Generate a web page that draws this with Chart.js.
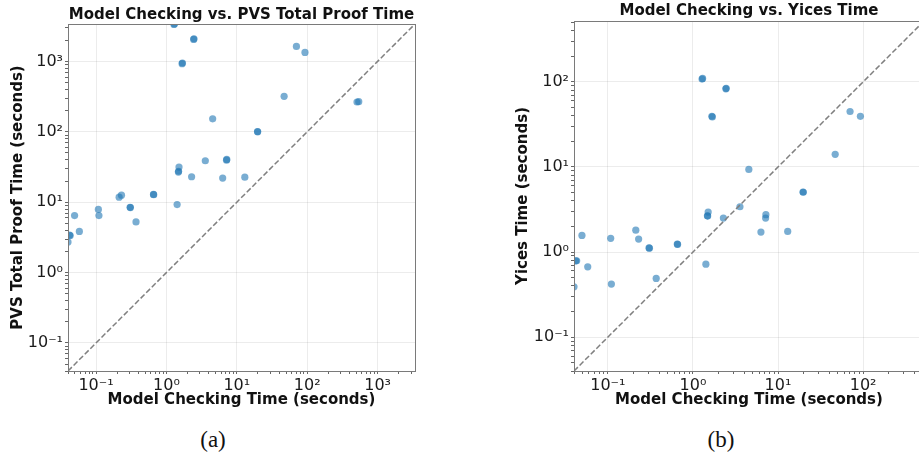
<!DOCTYPE html>
<html>
<head>
<meta charset="utf-8">
<script src="https://cdn.jsdelivr.net/npm/chart.js@4.4.1/dist/chart.umd.min.js"></script>
<style>
html, body { margin: 0; padding: 0; background: #fff; overflow: hidden; width: 919px; height: 459px; }
.box { position: absolute; top: 0; height: 412px; }
#boxA { left: 0; width: 460px; }
#boxB { left: 460px; width: 470px; }
.cap { position: absolute; top: 427px; font-family: "Liberation Serif", serif; font-size: 23px; color: #111; transform: translateX(-50%); }
</style>
</head>
<body>
<div class="box" id="boxA"><canvas id="chartA"></canvas></div>
<div class="box" id="boxB"><canvas id="chartB"></canvas></div>
<div class="cap" style="left:213px">(a)</div>
<div class="cap" style="left:721px">(b)</div>
<script>
// model checking time per benchmark (seconds) and the matching prover times
const modelTime = [1.30, 1.28, 2.46, 2.44, 1.69, 1.67, 70.3, 93, 47, 510, 540, 4.54, 19.7, 19.8,
  3.57, 7.2, 7.15, 1.51, 1.48, 1.49, 2.28, 6.3, 13, 0.213, 0.23, 0.66, 0.655, 0.308, 0.305,
  1.42, 0.37, 0.108, 0.11, 0.0496, 0.043, 0.042, 0.04, 0.058];
const pvsTime = [3400, 3350, 2100, 2050, 949, 930, 1632, 1342, 319, 265, 268, 153, 101, 100,
  38.8, 40.5, 39.5, 31.6, 26.8, 27.5, 23, 22, 22.7, 11.8, 12.6, 12.8, 12.9, 8.4, 8.45,
  9.25, 5.25, 7.9, 6.45, 6.45, 3.36, 3.4, 2.71, 3.85];
// the two ~500 s benchmarks fall outside plot (b)
const yicesTime = [110, 108, 84, 83, 38.8, 39.5, 44.9, 39.4, 14.1, null, null, 9.37, 5.08, 5.05,
  3.41, 2.75, 2.51, 2.95, 2.67, 2.65, 2.51, 1.72, 1.75, 1.81, 1.42, 1.23, 1.24, 1.11, 1.12,
  0.72, 0.49, 1.45, 0.42, 1.57, 0.79, 0.79, 0.39, 0.67];

const rangeA = [0.04, 3400];
const rangeB = [0.04, 520];

const FONT = 'DejaVu Sans';
const sup = { '-': '\u207B', '0': '\u2070', '1': '\u00B9', '2': '\u00B2', '3': '\u00B3', '4': '\u2074' };

function isPow10(v) {
  const l = Math.log10(v);
  return Math.abs(l - Math.round(l)) < 1e-6;
}

function powLabel(v) {
  if (!isPow10(v)) return '';
  const e = String(Math.round(Math.log10(v)));
  return '10' + e.split('').map(c => sup[c]).join('');
}

// major ticks at each decade, minor at 2..9
function logTicks(scale) {
  const ticks = [];
  const lo = Math.floor(Math.log10(scale.min));
  const hi = Math.ceil(Math.log10(scale.max));
  for (let e = lo; e <= hi; e++) {
    for (let m = 1; m < 10; m++) {
      const v = Number((m * Math.pow(10, e)).toPrecision(6));
      if (v >= scale.min && v <= scale.max) ticks.push({ value: v });
    }
  }
  scale.ticks = ticks;
}

const framePlugin = {
  id: 'frame',
  afterDraw(chart) {
    const a = chart.chartArea;
    const ctx = chart.ctx;
    ctx.save();
    ctx.strokeStyle = '#7a7a7a';
    ctx.lineWidth = 1;
    ctx.strokeRect(Math.round(a.left) + 0.5, Math.round(a.top) + 0.5,
      Math.round(a.right - a.left), Math.round(a.bottom - a.top));
    ctx.restore();
  }
};

function axis(range, title, opts) {
  return {
    type: 'logarithmic',
    min: range[0],
    max: range[1],
    afterBuildTicks: logTicks,
    afterFit: opts.fit,
    border: { display: false },
    grid: {
      color: ctx => ctx.tick && isPow10(ctx.tick.value) ? 'rgba(0,0,0,0.075)' : 'rgba(0,0,0,0)',
      tickColor: '#666',
      tickLength: 3,
      drawTicks: true
    },
    ticks: {
      autoSkip: false,
      maxRotation: 0,
      padding: opts.tickPad,
      color: '#1a1a1a',
      font: { family: FONT, size: 16 },
      callback: v => powLabel(v)
    },
    title: {
      display: true,
      text: title,
      color: '#111',
      font: { family: FONT, size: 15, weight: 'bold' },
      padding: opts.titlePad
    }
  };
}

function scatterSet(ys) {
  return {
    type: 'scatter',
    data: modelTime.map((x, i) => ({ x: x, y: ys[i] })).filter(p => p.y != null),
    pointRadius: 3.6,
    pointHoverRadius: 3.6,
    backgroundColor: 'rgba(31,119,180,0.6)',
    borderWidth: 0,
    order: 1
  };
}

function diagonal(r) {
  return {
    type: 'line',
    data: [{ x: r[0], y: r[0] }, { x: r[1], y: r[1] }],
    borderColor: '#808080',
    borderWidth: 1.5,
    borderDash: [5.5, 2.4],
    pointRadius: 0,
    fill: false,
    order: 0
  };
}

function makeChart(id, title, yTitle, ys, range, L) {
  return new Chart(document.getElementById(id), {
    type: 'scatter',
    data: { datasets: [scatterSet(ys), diagonal(range)] },
    options: {
      responsive: true,
      maintainAspectRatio: false,
      animation: false,
      events: [],
      layout: { padding: L.padding },
      plugins: {
        legend: { display: false },
        tooltip: { enabled: false },
        title: {
          display: true,
          text: title,
          fullSize: false,
          color: '#111',
          font: { family: FONT, size: 15, weight: 'bold', lineHeight: 1 },
          padding: L.titlePad
        }
      },
      scales: {
        x: axis(range, 'Model Checking Time (seconds)', {
          fit: s => { s.height = 41; }, tickPad: 2, titlePad: { top: 0, bottom: 3 }
        }),
        y: axis(range, yTitle, {
          fit: s => { s.width = L.yWidth; }, tickPad: 2, titlePad: { top: L.yTitlePad, bottom: 0 }
        })
      }
    },
    plugins: [framePlugin]
  });
}

makeChart('chartA', 'Model Checking vs. PVS Total Proof Time', 'PVS Total Proof Time (seconds)',
  pvsTime, rangeA, { padding: { left: 0, right: 45, top: 0, bottom: 0 }, yWidth: 68, yTitlePad: 9, titlePad: { top: 8, bottom: 1 } });

makeChart('chartB', 'Model Checking vs. Yices Time', 'Yices Time (seconds)',
  yicesTime, rangeB, { padding: { left: 44, right: 6, top: 0, bottom: 0 }, yWidth: 70, yTitlePad: 10, titlePad: { top: 4, bottom: 2 } });
</script>
</body>
</html>
